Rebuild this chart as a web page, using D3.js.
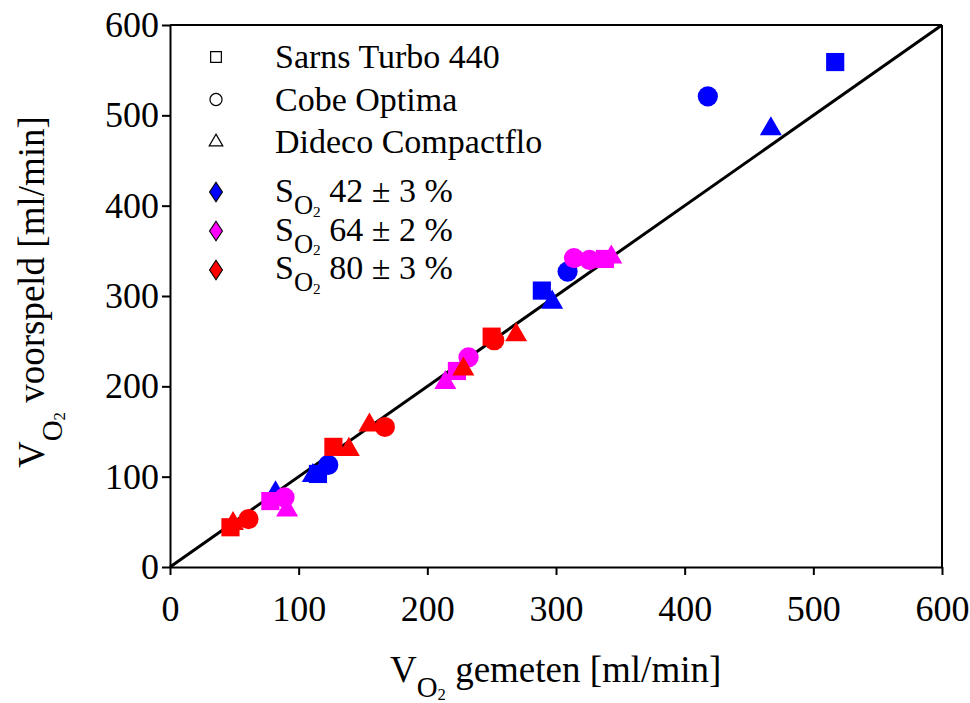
<!DOCTYPE html>
<html>
<head>
<meta charset="utf-8">
<script src="https://cdn.jsdelivr.net/npm/d3@7"></script>
<style>
  body { margin: 0; background: #fff; }
  text { font-family: "Liberation Serif", "Times New Roman", serif; fill: #000; }
</style>
</head>
<body>
<svg id="chart" width="970" height="703"></svg>
<script>
// measured vs predicted VO2 [ml/min], one array per saturation level: [oxygenator, measured, predicted]
var sat42 = [
  ["square", 517, 559], ["circle", 418, 521], ["triangle", 467, 485],
  ["square", 289, 306], ["circle", 309, 327], ["triangle", 297, 293],
  ["triangle", 111, 101], ["square", 115, 103], ["circle", 123, 113], ["triangle", 82, 82]
];
var sat64 = [
  ["square", 78, 73], ["circle", 89, 77], ["triangle", 91, 63],
  ["triangle", 214, 204], ["square", 223, 217], ["circle", 232, 232],
  ["circle", 314, 342], ["circle", 326, 340], ["square", 338, 341], ["triangle", 343, 343]
];
var sat80 = [
  ["square", 47, 44], ["triangle", 49, 48], ["circle", 61, 53],
  ["square", 127, 133], ["triangle", 139, 130], ["triangle", 155, 157], ["circle", 167, 155],
  ["triangle", 228, 219], ["square", 250, 255], ["circle", 252, 251], ["triangle", 269, 257]
];
var groups = [sat42, sat64, sat80];
var groupColors = ["#0000ff", "#ff00ff", "#ff0000"];
var groupLabels = ["42 \u00b1 3 %", "64 \u00b1 2 %", "80 \u00b1 3 %"];
var oxygenators = ["Sarns Turbo 440", "Cobe Optima", "Dideco Compactflo"];
var oxyShapes = ["square", "circle", "triangle"];
var ticks = [0, 100, 200, 300, 400, 500, 600];

var svg = d3.select("#chart");
var margin = {left: 170, right: 28, top: 25, bottom: 136};
var width = 970 - margin.left - margin.right,
    height = 703 - margin.top - margin.bottom;

var x = d3.scaleLinear().domain([0, 600]).range([0, width]);
var y = d3.scaleLinear().domain([0, 600]).range([height, 0]);

var g = svg.append("g").attr("transform", "translate(" + margin.left + "," + margin.top + ")");

var symbolType = {square: d3.symbolSquare, circle: d3.symbolCircle, triangle: d3.symbolTriangle};
var symbolSize = {square: 330, circle: 320, triangle: 210};

// identity line
g.append("line")
    .attr("x1", x(0)).attr("y1", y(0))
    .attr("x2", x(600)).attr("y2", y(600))
    .attr("stroke", "#000").attr("stroke-width", 3);

// data points
groups.forEach(function (grp, i) {
  g.selectAll(".pt" + i).data(grp).enter().append("path")
      .attr("class", "pt" + i)
      .attr("d", function (d) { return d3.symbol().type(symbolType[d[0]]).size(symbolSize[d[0]])(); })
      .attr("transform", function (d) { return "translate(" + x(d[1]) + "," + y(d[2]) + ")"; })
      .attr("fill", groupColors[i]);
});

// axes
var xAxis = g.append("g").attr("transform", "translate(0," + height + ")")
    .call(d3.axisBottom(x).tickValues(ticks).tickSize(8).tickPadding(14).tickSizeOuter(0));
var yAxis = g.append("g")
    .call(d3.axisLeft(y).tickValues(ticks).tickSize(8).tickPadding(3).tickSizeOuter(0));
[xAxis, yAxis].forEach(function (a) {
  a.select(".domain").attr("stroke-width", 2);
  a.selectAll(".tick line").attr("stroke-width", 2);
  a.selectAll(".tick text").style("font-family", "Liberation Serif").style("font-size", "36px");
});
xAxis.selectAll(".tick text").attr("dy", "0.9em");
// top and right frame
g.append("line").attr("x1", 0).attr("x2", width).attr("y1", 0).attr("y2", 0)
    .attr("stroke", "#000").attr("stroke-width", 2);
g.append("line").attr("x1", width).attr("x2", width).attr("y1", 0).attr("y2", height)
    .attr("stroke", "#000").attr("stroke-width", 2);

// text with chemical subscript, e.g. V + O + 2
function subText(sel, main, rest, size, drop) {
  sel.append("tspan").text(main);
  sel.append("tspan").attr("dy", size * drop).style("font-size", (size * 0.78) + "px").text("O");
  sel.append("tspan").attr("dy", size * 0.08).style("font-size", (size * 0.45) + "px").text("2");
  sel.append("tspan").attr("dy", -size * (drop + 0.08)).style("font-size", size + "px").text(rest);
}

// legend
var leg = svg.append("g");
oxygenators.forEach(function (name, i) {
  var yy = 57 + i * 42.5;
  leg.append("path")
      .attr("d", d3.symbol().type(symbolType[oxyShapes[i]]).size(oxyShapes[i] === "triangle" ? 80 : 115)())
      .attr("transform", "translate(216," + yy + ")")
      .attr("fill", "#fff").attr("stroke", "#000").attr("stroke-width", 1.2);
  leg.append("text").attr("x", 275).attr("y", yy + 11).style("font-size", "34px").text(name);
});
groupLabels.forEach(function (lab, i) {
  var yy = 192 + i * 39;
  leg.append("path")
      .attr("d", d3.symbol().type(d3.symbolDiamond).size(120)())
      .attr("transform", "translate(216," + yy + ") scale(1.1,0.95)")
      .attr("fill", groupColors[i]).attr("stroke", "#000").attr("stroke-width", 1);
  var t = leg.append("text").attr("x", 275).attr("y", 202 + i * 38.5).style("font-size", "34px");
  subText(t, "S", " " + lab, 34, 0.36);
});

// axis titles
var xt = svg.append("text").attr("x", 390).attr("y", 682).style("font-size", "37px");
subText(xt, "V", " gemeten [ml/min]", 37, 0.4);
var yt = svg.append("text").attr("transform", "translate(44,468) rotate(-90)").style("font-size", "37px");
subText(yt, "V", " voorspeld [ml/min]", 37, 0.48);
</script>
</body>
</html>
